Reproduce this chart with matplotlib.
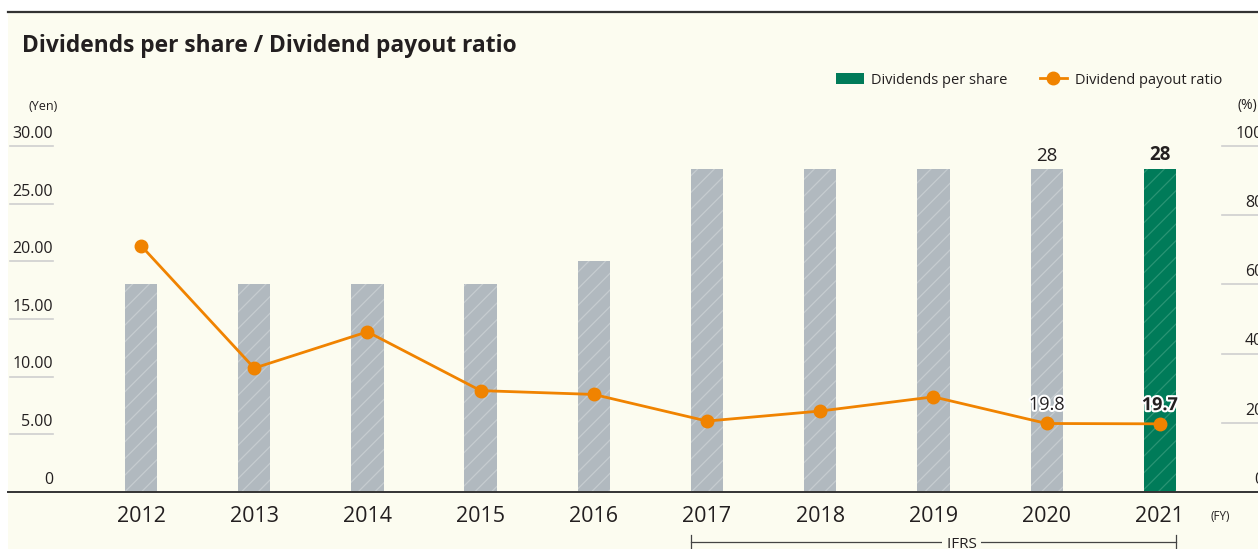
import numpy as np
import matplotlib.pyplot as plt
import matplotlib.transforms as mtransforms
import matplotlib.patheffects as pe
from matplotlib.patches import Patch, Rectangle
from matplotlib.lines import Line2D

plt.rcParams['font.family'] = ['Open Sans', 'DejaVu Sans']
plt.rcParams['hatch.linewidth'] = 0.9

# data
years = ['2012', '2013', '2014', '2015', '2016', '2017', '2018', '2019', '2020', '2021']
dps = [18, 18, 18, 18, 20, 28, 28, 28, 28, 28]                      # yen
payout = [71.2, 35.8, 46.3, 29.3, 28.2, 20.5, 23.4, 27.5, 19.8, 19.7]  # %
left_ticks = [0, 5, 10, 15, 20, 25, 30]
left_labels = ['0', '5.00', '10.00', '15.00', '20.00', '25.00', '30.00']
right_ticks = [0, 20, 40, 60, 80, 100]

# colours
bg = '#FCFCF0'
gray = '#B1B9BF'
gray_hatch = '#C6CCD0'
green = '#007B59'
green_hatch = '#2A9474'
orange = '#F08300'
txt = '#231F20'
grid = '#CFCFCF'

W, H = 1258, 549
fig = plt.figure(figsize=(W / 100, H / 100), dpi=100)
fig.patch.set_facecolor('white')

# cream panel and top rule
fig.patches.append(Rectangle((8 / W, 0), 1, 1 - 12 / H, transform=fig.transFigure,
                             facecolor=bg, edgecolor='none', zorder=-10))
fig.add_artist(Line2D([8 / W, 1], [1 - 12 / H, 1 - 12 / H], transform=fig.transFigure,
                      color='#333333', lw=1.6))

ax = fig.add_axes([8 / W, (H - 492) / H, 1 - 8 / W, (492 - 146) / H])
ax.set_facecolor('none')
ax2 = ax.twinx()

x = np.arange(len(years))
colors = [gray] * 9 + [green]
hcolors = [gray_hatch] * 9 + [green_hatch]
for i in range(len(years)):
    ax.bar(x[i], dps[i], width=0.285, color=colors[i], edgecolor=hcolors[i],
           linewidth=0, hatch='//', zorder=2)

ax.set_xlim(-1.175, 9.867)
ax.set_ylim(0, 30)
ax.set_xticks(x, years, fontsize=15.5, color=txt, fontweight=500)
ax.tick_params(axis='x', length=0, pad=10)
ax.set_yticks([])
for s in ['top', 'left', 'right']:
    ax.spines[s].set_visible(False)
ax.spines['bottom'].set_color('#333333')
ax.spines['bottom'].set_linewidth(1.4)

ax2.plot(x, payout, color=orange, lw=2.0, marker='o', markersize=9, zorder=3)
ax2.set_ylim(0, 100)
ax2.set_yticks([])
for s in ax2.spines.values():
    s.set_visible(False)

# short gridline stubs with labels
trans_l = mtransforms.blended_transform_factory(ax.transAxes, ax.transData)
for v, lab in zip(left_ticks, left_labels):
    if v > 0:
        ax.axhline(v, xmin=0.0016, xmax=0.036, color=grid, lw=1.2, clip_on=False)
    ax.annotate(lab, xy=(0.036, v), xycoords=trans_l, xytext=(0, 3),
                textcoords='offset points', ha='right', va='bottom',
                fontsize=11.5, color=txt)
trans_r = mtransforms.blended_transform_factory(ax2.transAxes, ax2.transData)
for v in right_ticks:
    if v > 0:
        ax2.axhline(v, xmin=0.971, xmax=1.0, color=grid, lw=1.2, clip_on=False)
    ax2.annotate(str(v), xy=(1.004, v), xycoords=trans_r, xytext=(0, 3),
                 textcoords='offset points', ha='right', va='bottom',
                 fontsize=11.5, color=txt, annotation_clip=False)

# value labels
ax.annotate('28', xy=(x[8], dps[8]), xytext=(0, 3), textcoords='offset points',
            ha='center', va='bottom', fontsize=13.5, color=txt)
ax.annotate('28', xy=(x[9], dps[9]), xytext=(0, 3), textcoords='offset points',
            ha='center', va='bottom', fontsize=13.5, color=txt, fontweight='bold')
stroke = [pe.withStroke(linewidth=3, foreground='white')]
ax2.annotate('19.8', xy=(x[8], payout[8]), xytext=(0, 7), textcoords='offset points',
             ha='center', va='bottom', fontsize=13, color=txt, path_effects=stroke, zorder=5)
ax2.annotate('19.7', xy=(x[9], payout[9]), xytext=(0, 7), textcoords='offset points',
             ha='center', va='bottom', fontsize=13, color=txt, fontweight='bold',
             path_effects=stroke, zorder=5)

# title, units
fig.text(22 / W, 1 - 46 / H, 'Dividends per share / Dividend payout ratio',
         fontsize=16.4, fontweight='bold', color=txt, va='center')
fig.text(43 / W, 1 - 106 / H, '(Yen)', fontsize=9, color=txt, ha='center', va='center')
fig.text(1238 / W, 1 - 106 / H, '(%)', fontsize=10, color=txt, ha='left', va='center')
fig.text(1220 / W, 1 - 517 / H, '(FY)', fontsize=8.5, color=txt, ha='center', va='center')

# legend
handles = [Patch(facecolor=green, edgecolor='none'),
           Line2D([], [], color=orange, lw=2.0, marker='o', markersize=9)]
fig.legend(handles, ['Dividends per share', 'Dividend payout ratio'],
           loc='center right', bbox_to_anchor=(1235 / W, 1 - 80 / H), ncol=2,
           frameon=False, fontsize=10.5, handlelength=1.9, handleheight=0.7,
           columnspacing=2.2, handletextpad=0.5, labelcolor=txt)

# IFRS bracket
trans_b = mtransforms.blended_transform_factory(ax.transData, fig.transFigure)
yb = 1 - 542 / H
ax.plot([x[5] - 0.143, x[9] + 0.143], [yb, yb], transform=trans_b, color='#444444',
        lw=0.9, clip_on=False)
for xe in [x[5] - 0.143, x[9] + 0.143]:
    ax.plot([xe, xe], [1 - 535 / H, 1 - 550 / H], transform=trans_b, color='#444444',
            lw=0.9, clip_on=False)
ax.text((x[5] + x[9]) / 2 + 0.25, 1 - 537 / H, ' IFRS ', transform=trans_b, ha='center',
        va='top', fontsize=11, color=txt,
        bbox=dict(facecolor=bg, edgecolor='none', pad=0.5))

fig.savefig('out.png', dpi=100, facecolor=fig.get_facecolor())
